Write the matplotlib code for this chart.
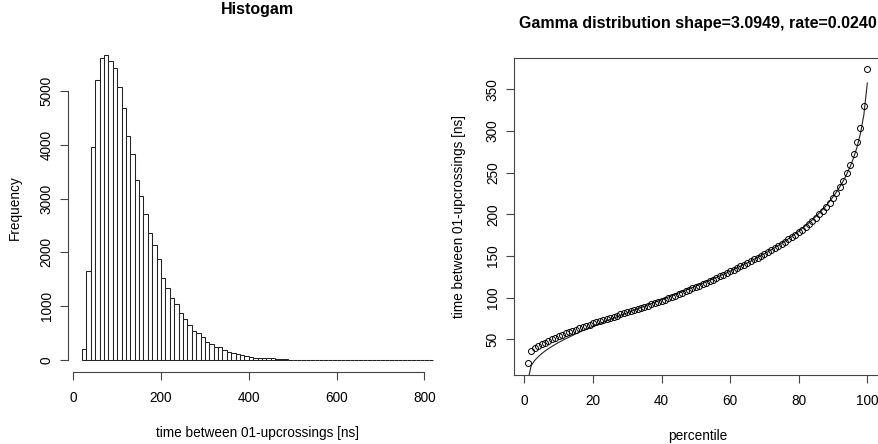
import numpy as np
import matplotlib
matplotlib.use("Agg")
import matplotlib.pyplot as plt

plt.rcParams['font.family'] = ['Liberation Sans', 'DejaVu Sans']

# ---------------- data ----------------
bin_start = 20
bin_width = 10
hist_counts = [211, 1654, 3965, 5198, 5607, 5663, 5558, 5421, 5080, 4678,
               4164, 3823, 3340, 3048, 2714, 2367, 2131, 1871, 1518, 1344,
               1146, 1035, 867, 756, 644, 545, 496, 421, 341, 297,
               235, 235, 186, 142, 124, 112, 87, 74, 56, 43,
               43, 31, 31, 31, 28, 12, 20, 8, 6, 5,
               4, 2, 1, 1, 0, 1, 0, 0, 1, 0,
               0, 0, 0, 0, 0, 0, 0, 0, 0, 0,
               0, 0, 0, 0, 0, 0, 0, 0, 0, 1]

percentile = list(range(1, 101))
sample_q = [21, 36, 39, 42, 44, 46, 48, 50, 52, 54,
            55.5, 57, 58.5, 60, 61.5, 63, 64.5, 66, 67.5, 69,
            70.5, 72, 73, 74.5, 76, 77, 78.5, 80, 81, 82.5,
            84, 85, 86.5, 88, 89, 90.5, 92, 93, 94.5, 96,
            97.5, 99, 100.5, 102.5, 104, 106, 107.5, 109, 111, 112.5,
            114, 116, 118, 120, 121.5, 123.5, 125.5, 127.5, 129.5, 131.5,
            133.5, 135.5, 137.5, 139.5, 141.5, 143.5, 146, 148, 150.5, 152.5,
            155, 157, 159.5, 162, 164.5, 167, 170, 172.5, 175.5, 178.5,
            181.5, 185, 188.5, 192, 196, 200, 204.5, 209, 214, 219,
            226, 233, 240, 249, 259, 272, 287, 303, 330, 374]
gamma_q = [0, 18.5, 24.5, 28.9, 32.6, 35.8, 38.7, 41.3, 43.8, 46.2,
           48.4, 50.5, 52.5, 54.5, 56.5, 58.4, 60.2, 62.0, 63.8, 65.5,
           67.2, 68.9, 70.5, 72.2, 73.8, 75.4, 77.0, 78.6, 80.2, 81.8,
           83.4, 85.0, 86.5, 88.1, 89.6, 91.2, 92.8, 94.4, 95.9, 97.5,
           99.1, 100.7, 102.3, 103.9, 105.6, 107.2, 108.9, 110.5, 112.2, 113.9,
           115.6, 117.3, 119.0, 120.8, 122.5, 124.3, 126.1, 128.0, 129.8, 131.8,
           133.7, 135.7, 137.7, 139.7, 141.7, 143.8, 146.0, 148.2, 150.4, 152.7,
           155.1, 157.5, 160.0, 162.5, 165.2, 167.9, 170.7, 173.6, 176.6, 179.7,
           182.9, 186.3, 189.8, 193.5, 197.4, 201.5, 205.8, 210.4, 215.4, 220.8,
           226.7, 233.1, 240.1, 248.1, 257.2, 267.8, 280.6, 296.9, 319.6, 357.5]

hist_xticks = [0, 200, 400, 600, 800]
hist_yticks = [0, 1000, 2000, 3000, 4000, 5000]
qq_xticks = [0, 20, 40, 60, 80, 100]
qq_yticks = [50, 100, 150, 200, 250, 300, 350]

# ---------------- figure ----------------
W, H = 879, 444
fig = plt.figure(figsize=(W / 100, H / 100), dpi=100)
fs = 9.8
tlen = 5.8

def frac(x0, y0, x1, y1):
    return [x0 / W, 1 - y1 / H, (x1 - x0) / W, (y1 - y0) / H]

# ---- histogram ----
ax1 = fig.add_axes(frac(68.0, 43.1, 447.1, 372.2))
edges = bin_start + bin_width * np.arange(len(hist_counts))
ax1.bar(edges, hist_counts, width=bin_width, align='edge',
        facecolor='white', edgecolor='#222222', linewidth=0.75)
lo = bin_start
hi = bin_start + bin_width * len(hist_counts)
ext = 0.04 * (hi - lo)
ax1.set_xlim(lo - ext, hi + ext)
ymax = max(hist_counts)
ax1.set_ylim(-0.04 * ymax, 1.04 * ymax)
for s in ['top', 'right']:
    ax1.spines[s].set_visible(False)
ax1.spines['bottom'].set_bounds(hist_xticks[0], hist_xticks[-1])
ax1.spines['left'].set_bounds(hist_yticks[0], hist_yticks[-1])
for s in ['bottom', 'left']:
    ax1.spines[s].set_color('#444444')
    ax1.spines[s].set_linewidth(0.8)
ax1.set_xticks(hist_xticks)
ax1.set_yticks(hist_yticks)
ax1.set_yticklabels([str(v) for v in hist_yticks], rotation=90, va='center')
ax1.tick_params(axis='both', direction='out', length=tlen, width=0.8,
                color='#444444', labelsize=fs)
ax1.tick_params(axis='x', pad=8)
ax1.tick_params(axis='y', pad=4.5)
ax1.set_xlabel('time between 01-upcrossings [ns]', fontsize=fs, labelpad=14.5)
ax1.set_ylabel('Frequency', fontsize=fs, labelpad=12.5)
ax1.set_title('Histogam', fontsize=11.5, fontweight='bold', pad=21)

# ---- gamma QQ ----
ax2 = fig.add_axes(frac(514.2, 57.5, 880.9, 375.2))
ax2.plot(percentile, gamma_q, color='#222222', linewidth=0.8)
ax2.plot(percentile, sample_q, linestyle='none', marker='o', markersize=4.3,
         markerfacecolor='none', markeredgecolor='black', markeredgewidth=0.7)
xr = percentile[-1] - percentile[0]
ax2.set_xlim(percentile[0] - 0.04 * xr, percentile[-1] + 0.04 * xr)
yr = max(sample_q) - min(sample_q)
ax2.set_ylim(min(sample_q) - 0.04 * yr, max(sample_q) + 0.04 * yr)
for s in ax2.spines.values():
    s.set_color('#444444')
    s.set_linewidth(0.8)
ax2.set_xticks(qq_xticks)
ax2.set_yticks(qq_yticks)
ax2.set_yticklabels([str(v) for v in qq_yticks], rotation=90, va='center')
ax2.tick_params(axis='both', direction='out', length=tlen, width=0.8,
                color='#444444', labelsize=fs)
ax2.tick_params(axis='x', pad=8)
ax2.tick_params(axis='y', pad=4.5)
ax2.set_xlabel('percentile', fontsize=fs, labelpad=14.5)
ax2.set_ylabel('time between 01-upcrossings [ns]', fontsize=fs, labelpad=14)
ax2.set_title('Gamma distribution shape=3.0949, rate=0.0240',
              fontsize=11.5, fontweight='bold', pad=21)

fig.savefig('out.png', dpi=100)
